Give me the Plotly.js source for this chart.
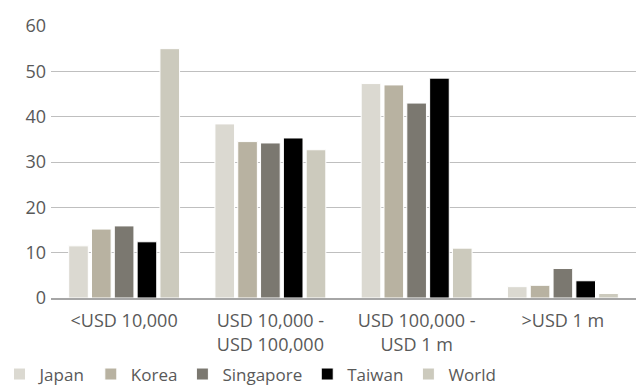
<!DOCTYPE html>
<html><head><meta charset="utf-8">
<script src="https://cdn.plot.ly/plotly-3.0.1.min.js"></script>
<style>html,body{margin:0;padding:0;background:#fff}</style>
</head><body>
<div id="chart" style="width:636px;height:385px"></div>
<script>
const categories = ["<USD 10,000", "USD 10,000 -<br>USD 100,000", "USD 100,000 -<br>USD 1 m", ">USD 1 m"];
const japan = [11.5, 38.4, 47.3, 2.5];
const korea = [15.2, 34.5, 47.0, 2.8];
const singapore = [15.9, 34.2, 43.0, 6.5];
const taiwan = [12.4, 35.3, 48.5, 3.8];
const world = [55.0, 32.7, 11.0, 1.0];
const seriesNames = ["Japan", "Korea", "Singapore", "Taiwan", "World"];
const colors = ["#dbd9d1", "#b8b2a1", "#7b7870", "#000000", "#cccabd"];
const vals = [japan, korea, singapore, taiwan, world];
const traces = vals.map((v, i) => ({
  type: "bar", x: categories, y: v, name: seriesNames[i],
  marker: {color: colors[i], line: {color: "#ffffff", width: 1}},
  hoverinfo: "y"
}));
const layout = {
  width: 636, height: 385,
  margin: {l: 51, r: 0, t: 26, b: 87, autoexpand: false},
  paper_bgcolor: "#fff", plot_bgcolor: "#fff",
  font: {family: "Open Sans, sans-serif", size: 18, color: "#595959"},
  barmode: "group", bargap: 0.22, bargroupgap: 0.14,
  xaxis: {showgrid: false, showline: true, linecolor: "#a6a6a6", linewidth: 1.5,
          ticks: "", ticklabelstandoff: 6, tickfont: {size: 18, color: "#595959"}},
  yaxis: {range: [0, 60], dtick: 10, showgrid: true, gridcolor: "#bfbfbf", gridwidth: 1,
          zeroline: false, ticks: "", ticklabelstandoff: 4, tickfont: {size: 18, color: "#595959"}},
  legend: {orientation: "h", x: -0.088, xanchor: "left", y: -0.215, yanchor: "top",
           font: {size: 17, color: "#595959"}, itemwidth: 30, traceorder: "normal"},
  showlegend: true
};
Plotly.newPlot("chart", traces, layout, {displayModeBar: false, staticPlot: true});
</script>
</body></html>
